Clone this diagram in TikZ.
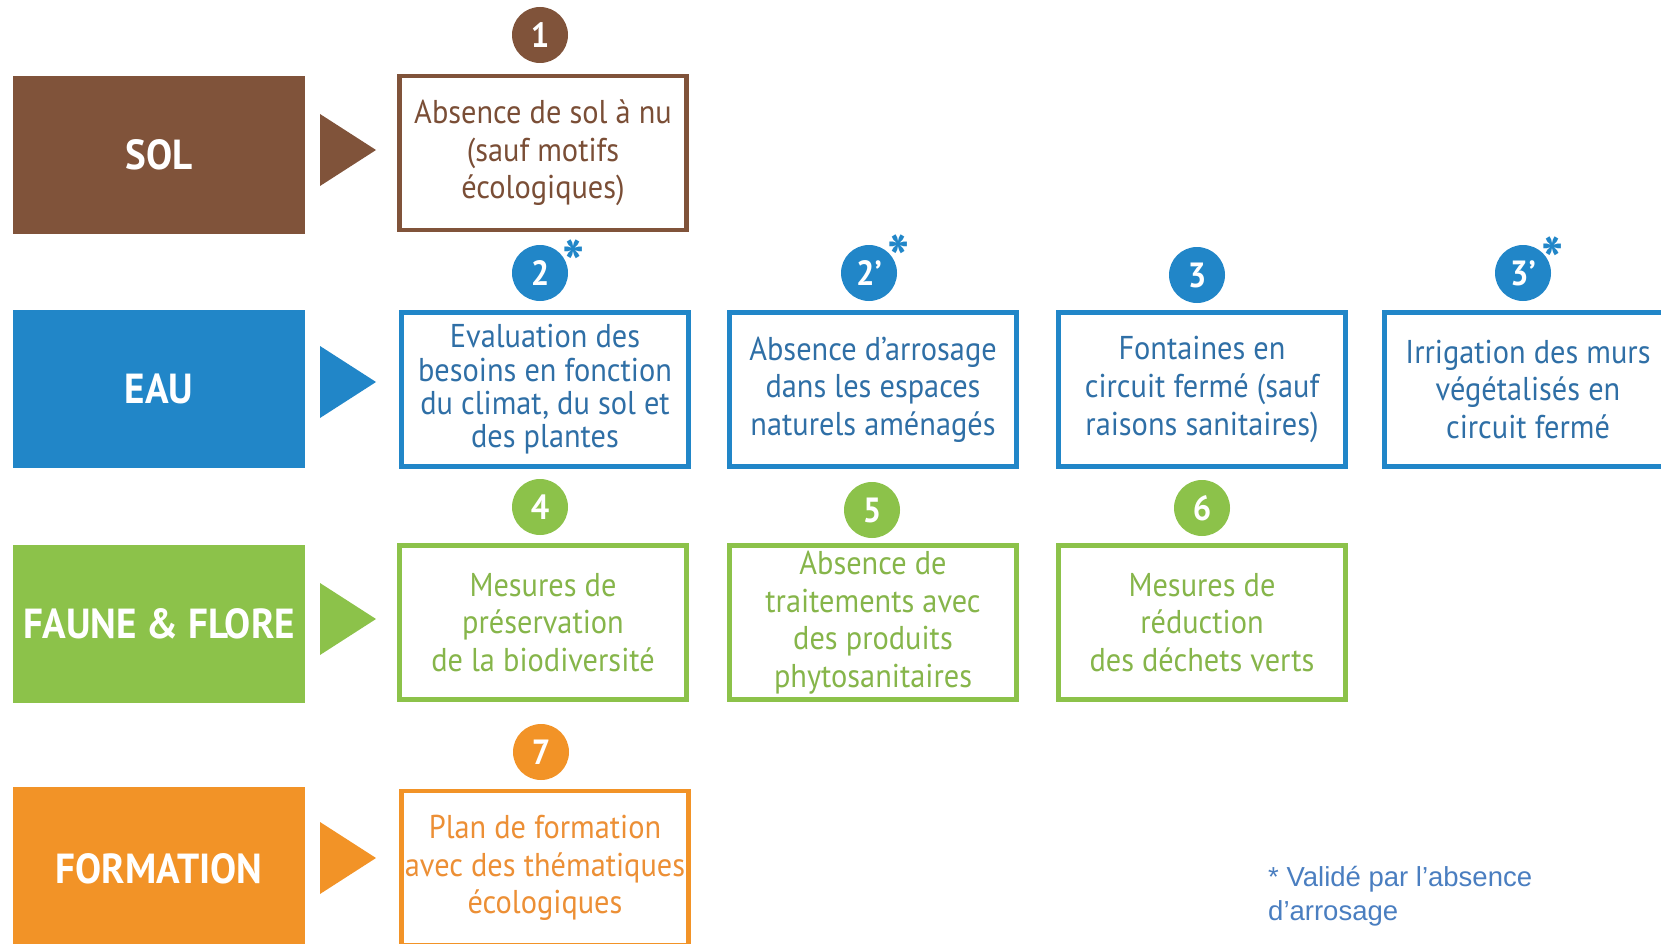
\documentclass[tikz,border=0pt]{standalone}
\usepackage{fontspec}
\setmainfont{PT Sans}[FakeStretch=0.92]
\newfontfamily\catfont{PT Sans}[FakeStretch=0.93]
\newfontfamily\footfont{Liberation Sans}
\usetikzlibrary{calc}
\definecolor{cbrown}{HTML}{80533A}
\definecolor{cblue}{HTML}{2186C8}
\definecolor{cgreen}{HTML}{8CC24A}
\definecolor{corange}{HTML}{F29327}
\definecolor{tbrown}{HTML}{7A4E36}
\definecolor{tblue}{HTML}{2F6FA6}
\definecolor{tgreen}{HTML}{86B54A}
\definecolor{torange}{HTML}{EC8F35}
\definecolor{foot}{HTML}{4A7EC0}
\begin{document}
\begin{tikzpicture}[x=1pt,y=-1pt,
  cat/.style={fill=#1, text=white, font=\catfont\bfseries\fontsize{42}{46}\selectfont, minimum width=292pt, minimum height=158pt, inner sep=0pt},
  box/.style={draw=#1, line width=4.5pt, align=center, minimum width=287pt, minimum height=154pt, inner sep=0pt, font=\fontsize{33}{37.6}\selectfont},
  num/.style={circle, fill=#1, text=white, minimum size=56pt, inner sep=0pt, font=\catfont\bfseries\fontsize{35}{35}\selectfont},
  star/.style={text=cblue, font=\bfseries\fontsize{64}{64}\selectfont, inner sep=0pt},
  tri/.style={fill=#1}
]
\useasboundingbox (0,0) rectangle (1661,944);
\clip (0,0) rectangle (1661,944);

% categories
\node[cat=cbrown] (sol) at (159,155) {SOL};
\node[cat=cblue] (eau) at (159,389) {EAU};
\node[cat=cgreen] (faune) at (159,624) {FAUNE \& FLORE};
\node[cat=corange, minimum height=164pt] (form) at (159,869) {FORMATION};

% triangles
\fill[cbrown] (320,114) -- (376,150) -- (320,186) -- cycle;
\fill[cblue] (320,346) -- (376,382) -- (320,418) -- cycle;
\fill[cgreen] (320,583) -- (376,619) -- (320,655) -- cycle;
\fill[corange] (320,822) -- (376,858) -- (320,894) -- cycle;

% boxes
\node[box=cbrown, text=tbrown] (b1) at (543,153) {Absence de sol à nu\\(sauf motifs\\écologiques)};
\node[box=cblue, text=tblue, font=\fontsize{33}{33.3}\selectfont] (b2) at (545,389.5) {Evaluation des\\besoins en fonction\\du climat, du sol et\\des plantes};
\node[box=cblue, text=tblue] (b2p) at (873,389.5) {Absence d’arrosage\\dans les espaces\\naturels aménagés};
\node[box=cblue, text=tblue] (b3) at (1202,389.5) {Fontaines en\\circuit fermé (sauf\\raisons sanitaires)};
\node[box=cblue, text=tblue] (b3p) at (1528,389.5) {Irrigation des murs\\végétalisés en\\circuit fermé};
\node[box=cgreen, text=tgreen] (b4) at (543,622.5) {Mesures de\\préservation\\de la biodiversité};
\node[box=cgreen, text=tgreen] (b5) at (873,622.5) {Absence de\\traitements avec\\des produits\\phytosanitaires};
\node[box=cgreen, text=tgreen] (b6) at (1202,622.5) {Mesures de\\réduction\\des déchets verts};
\node[box=corange, text=torange] (b7) at (545,868) {Plan de formation\\avec des thématiques\\écologiques};

% numbers
\node[num=cbrown] (n1) at (540,35) {1};
\node[num=cblue] (n2) at (540,273) {2};
\node[num=cblue] (n2p) at (869,273) {2’};
\node[num=cblue] (n3) at (1197,275) {3};
\node[num=cblue] (n3p) at (1523,273) {3’};
\node[num=cgreen] (n4) at (540,507) {4};
\node[num=cgreen] (n5) at (872,510) {5};
\node[num=cgreen] (n6) at (1202,508) {6};
\node[num=corange] (n7) at (541,752) {7};

% asterisks
\node[star] (s2) at (574,263) {*};
\node[star] (s2p) at (899,258) {*};
\node[star] (s3p) at (1553,260) {*};

% footnote
\node[anchor=north west, align=left, text=foot, inner sep=0pt, font=\footfont\fontsize{27.5}{34}\selectfont] (note) at (1268,866) {* Validé par l’absence\\d’arrosage};
\end{tikzpicture}
\end{document}
